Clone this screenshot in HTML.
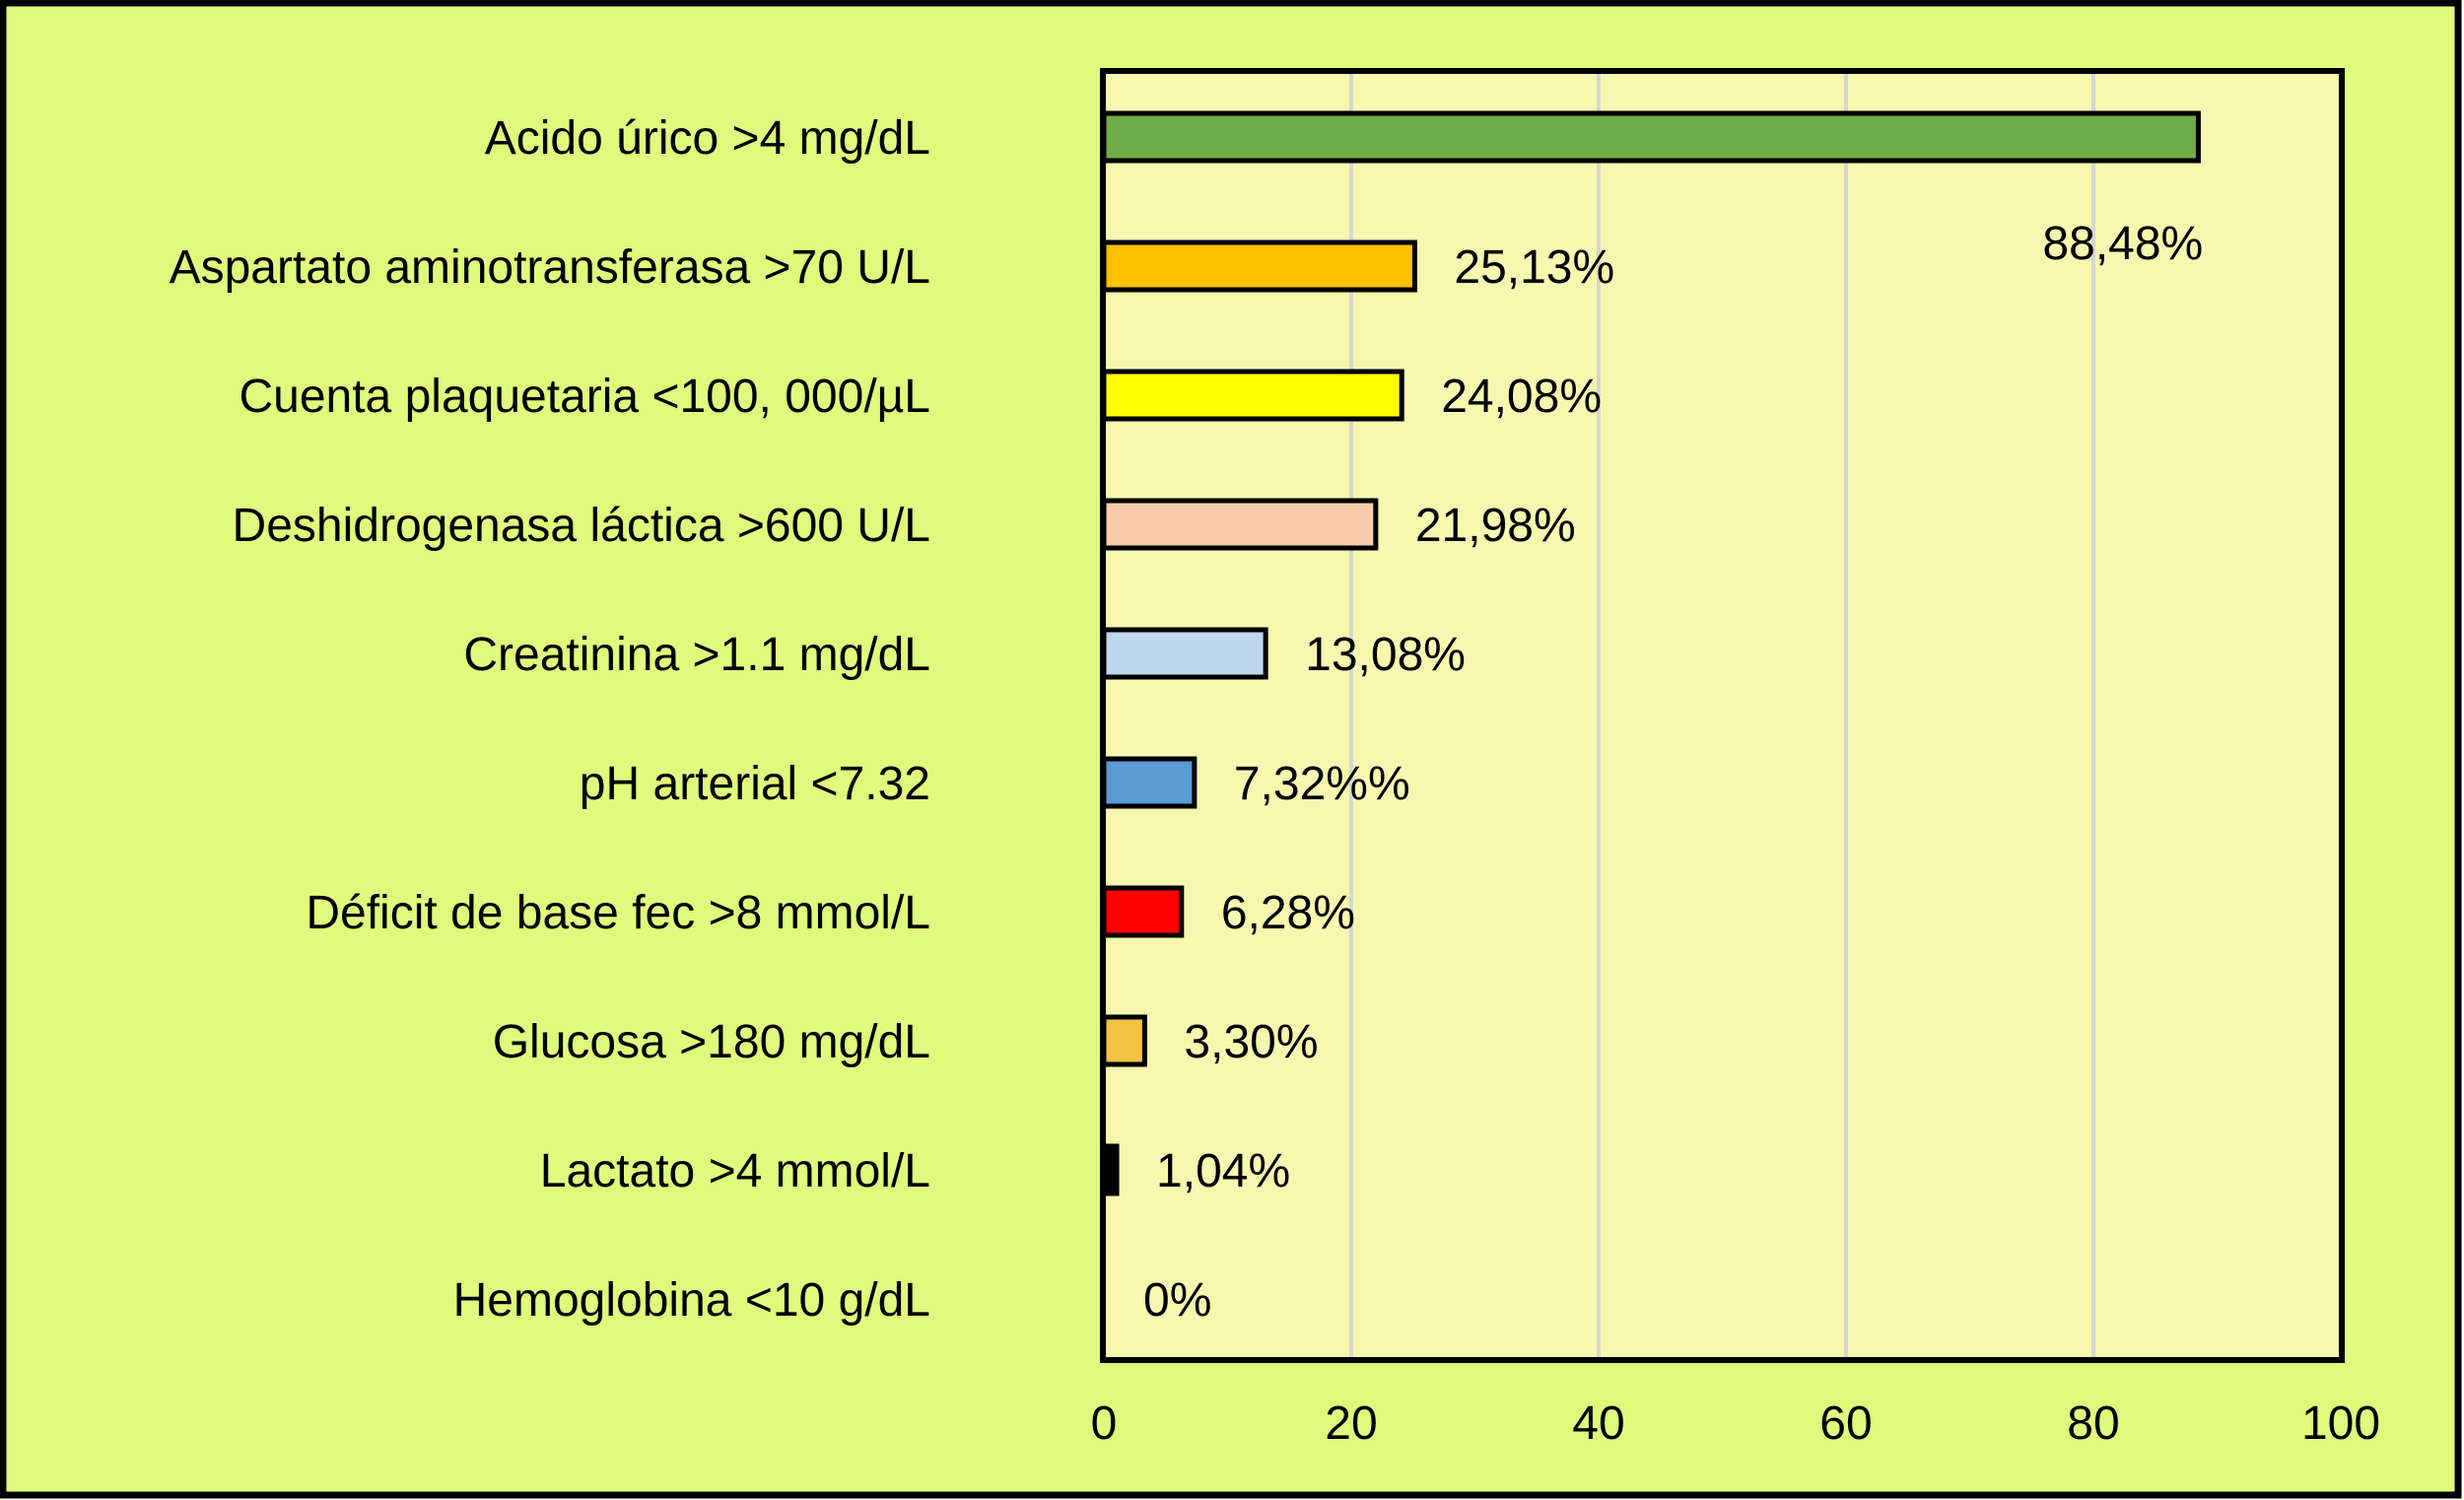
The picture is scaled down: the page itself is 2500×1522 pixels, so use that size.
<!DOCTYPE html>
<html><head><meta charset="utf-8"><style>
html,body{margin:0;padding:0;background:#fff}
svg{display:block}
text{font-family:"Liberation Sans",Arial,sans-serif;fill:#000}
</style></head><body>
<svg id="chart" width="2500" height="1522" viewBox="0 0 2500 1522" xmlns="http://www.w3.org/2000/svg">
<rect x="3" y="3" width="2491" height="1514" fill="#e1f97c" stroke="#000" stroke-width="7"/>
<rect x="1119" y="72" width="1257" height="1308" fill="#f7f7b0"/>
<g id="grid"></g>
<g id="bars"></g>
<rect x="1119" y="72" width="1257" height="1308" fill="none" stroke="#000" stroke-width="6"/>
<g id="labels"></g>
<g id="values"></g>
<g id="ticks"></g>
</svg>
<script>
const categories=["Acido úrico >4 mg/dL ","Aspartato aminotransferasa >70 U/L","Cuenta plaquetaria <100, 000/µL","Deshidrogenasa láctica >600 U/L","Creatinina >1.1 mg/dL","pH arterial <7.32","Déficit de base fec >8 mmol/L","Glucosa >180 mg/dL","Lactato >4 mmol/L","Hemoglobina <10 g/dL"];
const values=[88.48,25.13,24.08,21.98,13.08,7.32,6.28,3.30,1.04,0];
const valueLabels=["88,48%","25,13%","24,08%","21,98%","13,08%","7,32%%","6,28%","3,30%","1,04%","0%"];
const colors=["#70ad47","#ffc000","#ffff00","#f8cbad","#bdd7ee","#5b9bd5","#ff0000","#f4c242","#000000","#000000"];
const ticks=[0,20,40,60,80,100];
const NS="http://www.w3.org/2000/svg";
const x0=1120,x1=2375,yTop=139,yStep=131.0,barH=48,fs=48;
function xs(v){return x0+(v/100)*(x1-x0);}
function ys(i){return yTop+i*yStep;}
function mk(tag,attrs,parent,txt){const e=document.createElementNS(NS,tag);for(const k in attrs)e.setAttribute(k,attrs[k]);if(txt!==undefined)e.textContent=txt;parent.appendChild(e);return e;}
const grid=document.getElementById('grid'),bars=document.getElementById('bars'),labels=document.getElementById('labels'),vals=document.getElementById('values'),tk=document.getElementById('ticks');
ticks.forEach((t,i)=>{
  if(t>0&&t<100){const l=mk('line',{x1:xs(t),x2:xs(t),y1:72,y2:1380,stroke:'#d6d6d0','stroke-width':4},grid);
  
  }
  const tx=mk('text',{x:xs(t),y:1460,'font-size':fs,'text-anchor':'middle'},tk,String(t));
  
  
});
categories.forEach((c,i)=>{
  const y=ys(i);
  const w=xs(values[i])-xs(0);
  if(values[i]>0){
    const r=mk('rect',{x:xs(0),y:y-barH/2,width:w,height:barH,fill:colors[i],stroke:'#000','stroke-width':5},bars);
    
    
  }
  const t=mk('text',{x:944,y:y+17,'font-size':fs,'text-anchor':'end'},labels,c);
  
  
  let vx=xs(values[i])+40,vy=y+17;
  if(i===0){vx=xs(values[i])-158;vy=y+124;}
  const v=mk('text',{x:vx,y:vy,'font-size':fs},vals,valueLabels[i]);
  
  
});
</script>
</body></html>
